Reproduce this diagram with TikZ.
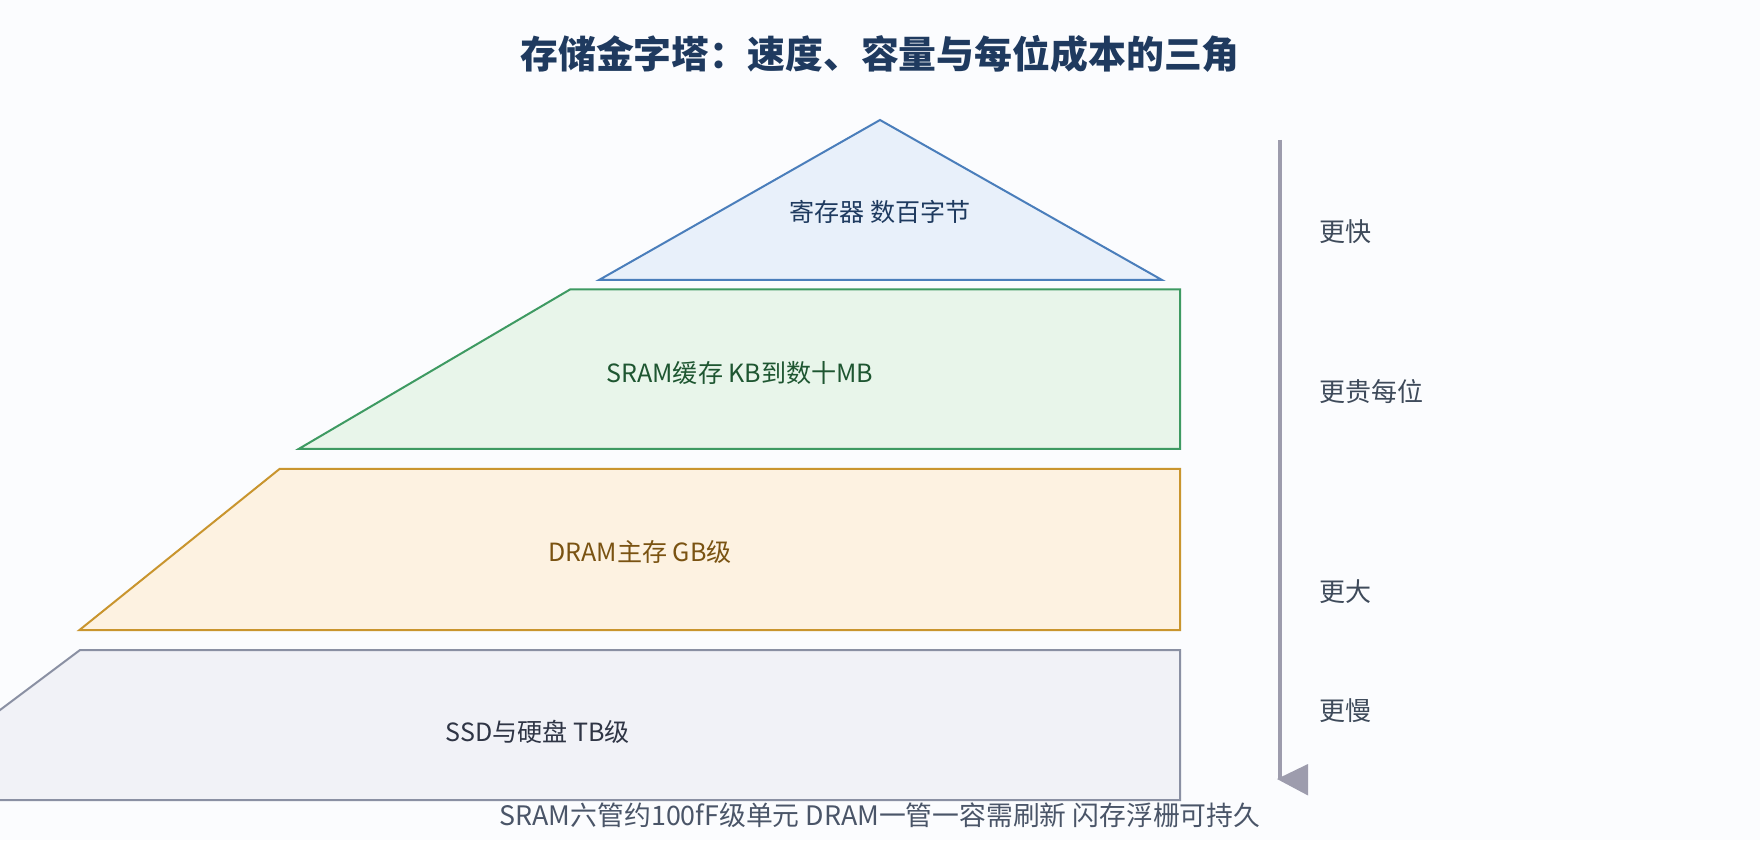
\documentclass[tikz,border=0pt]{standalone}
\usepackage{fontspec}
\setmainfont{Noto Sans CJK SC}
\usetikzlibrary{arrows.meta, positioning}
\definecolor{bgwhite}{HTML}{FBFCFE}
\definecolor{titlenavy}{HTML}{1F3A5F}
\definecolor{regblue}{HTML}{4A7EBB}
\definecolor{regfill}{HTML}{E8F0FA}
\definecolor{regtext}{HTML}{1E3A5F}
\definecolor{sramgreen}{HTML}{3E9A62}
\definecolor{sramfill}{HTML}{E8F5EA}
\definecolor{sramtext}{HTML}{1E5631}
\definecolor{dramamber}{HTML}{C9952E}
\definecolor{dramfill}{HTML}{FDF2E1}
\definecolor{dramtext}{HTML}{7A5312}
\definecolor{ssdgray}{HTML}{8A90A3}
\definecolor{ssdfill}{HTML}{F1F2F7}
\definecolor{ssdtext}{HTML}{2F3545}
\definecolor{axisgray}{HTML}{9D9CAD}
\definecolor{annotgray}{HTML}{3E4A5A}
\definecolor{footgray}{HTML}{4A5568}

\begin{document}
\begin{tikzpicture}[
    x=0.75pt, y=0.75pt,
    layer/.style={line width=1.5pt, line join=miter},
    lvl/.style={font=\fontsize{18.8}{22}\selectfont, inner sep=0pt},
    side/.style={font=\fontsize{19.5}{22}\selectfont\color{annotgray}, anchor=west, inner sep=0pt},
]
\useasboundingbox[fill=bgwhite] (0,0) rectangle (1760,840);
\clip (0,0) rectangle (1760,840);

% Title
\node[font=\fontsize{28.4}{32}\selectfont\bfseries\color{titlenavy}] (title) at (880,786) {存储金字塔：速度、容量与每位成本的三角};

% Level 1: registers
\draw[layer, draw=regblue, fill=regfill] (599,560) -- (880,720) -- (1162,560) -- cycle;
\node[lvl, text=regtext] (reg) at (880,628) {寄存器 数百字节};

% Level 2: SRAM cache
\draw[layer, draw=sramgreen, fill=sramfill] (298.6,391) -- (570,550.5) -- (1180,550.5) -- (1180,391) -- cycle;
\node[lvl, text=sramtext] (sram) at (740,467) {SRAM缓存 KB到数十MB};

% Level 3: DRAM
\draw[layer, draw=dramamber, fill=dramfill] (79.5,210) -- (279.5,371) -- (1180,371) -- (1180,210) -- cycle;
\node[lvl, text=dramtext] (dram) at (640,288) {DRAM主存 GB级};

% Level 4: SSD / disk
\draw[layer, draw=ssdgray, fill=ssdfill] (-120,40) -- (80,190) -- (1180,190) -- (1180,40) -- cycle;
\node[lvl, text=ssdtext] (ssd) at (538,108) {SSD与硬盘 TB级};

% Side axis
\coordinate (axtop) at (1280,700);
\coordinate (axbot) at (1280,61);
\draw[axisgray, line width=3pt] (axtop) -- (axbot);
\fill[axisgray] (axbot) ++(-3,0) -- ++(31,15) -- ++(0,-31.5) -- cycle;

\node[side] (fast) at (1319,608) {更快};
\node[side] (cost) at (1319,448) {更贵每位};
\node[side] (big) at (1319,248.5) {更大};
\node[side] (slow) at (1319,129.5) {更慢};

% Footer
\node[font=\fontsize{20.1}{22}\selectfont\color{footgray}] (foot) at (880,25) {SRAM六管约100fF级单元 DRAM一管一容需刷新 闪存浮栅可持久};

\end{tikzpicture}
\end{document}
